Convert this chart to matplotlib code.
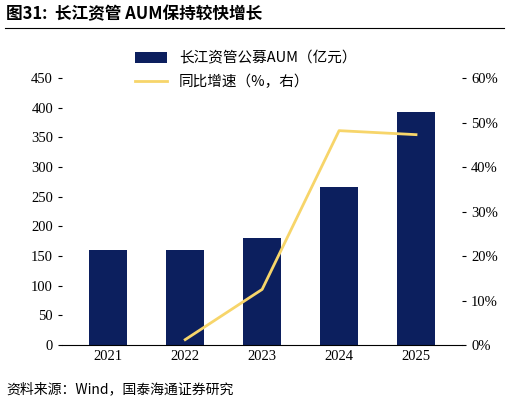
import matplotlib
matplotlib.use("Agg")
import matplotlib.pyplot as plt
from matplotlib.ticker import FuncFormatter

plt.rcParams['font.family'] = ['Noto Sans CJK SC', 'DejaVu Sans']

years = ['2021', '2022', '2023', '2024', '2025']
aum = [160, 160, 180, 266, 393]
growth_years = ['2022', '2023', '2024', '2025']
growth = [1.2, 12.5, 48.2, 47.3]

fig = plt.figure(figsize=(5.09, 4.03), dpi=100)
ax = fig.add_axes([0.122, 0.144, 0.786, 0.662])
x = list(range(len(years)))
ax.bar(x, aum, width=0.5, color='#0c1f5e', label='长江资管公募AUM（亿元）')
ax.set_ylim(0, 450)
ax.set_yticks(range(0, 451, 50))
ax.set_xlim(-0.6, 4.6)
ax.set_xticks(x)
ax.set_xticklabels(years, family=['Liberation Serif'])
for s in ['top', 'right', 'left']:
    ax.spines[s].set_visible(False)
ax.tick_params(axis='both', labelsize=10.5, length=0)
ax.tick_params(axis='y', length=3)
for lab in ax.get_yticklabels():
    lab.set_family('Liberation Serif')

ax2 = ax.twinx()
gx = [years.index(y) for y in growth_years]
ax2.plot(gx, growth, color='#f7d56a', lw=2, label='同比增速（%，右）')
ax2.set_ylim(0, 60)
ax2.set_yticks(range(0, 61, 10))
ax2.yaxis.set_major_formatter(FuncFormatter(lambda v, p: f'{int(v)}%'))
for s in ['top', 'right', 'left', 'bottom']:
    ax2.spines[s].set_visible(False)
ax2.tick_params(axis='y', labelsize=10.5, length=3)
for lab in ax2.get_yticklabels():
    lab.set_family('Liberation Serif')

h1, l1 = ax.get_legend_handles_labels()
h2, l2 = ax2.get_legend_handles_labels()
fig.legend(h1 + h2, l1 + l2, loc='upper left', bbox_to_anchor=(0.24, 0.905),
           frameon=False, fontsize=10.5, handlelength=2.2, labelspacing=0.6)

fig.text(0.012, 0.965, '图31:  长江资管 AUM保持较快增长', fontsize=12, fontweight='bold', va='center')
fig.add_artist(plt.Line2D([0.01, 0.99], [0.93, 0.93], color='black', lw=0.8))
fig.text(0.012, 0.035, '资料来源：Wind，国泰海通证券研究', fontsize=10, va='center')

fig.savefig('out.png', dpi=100)
